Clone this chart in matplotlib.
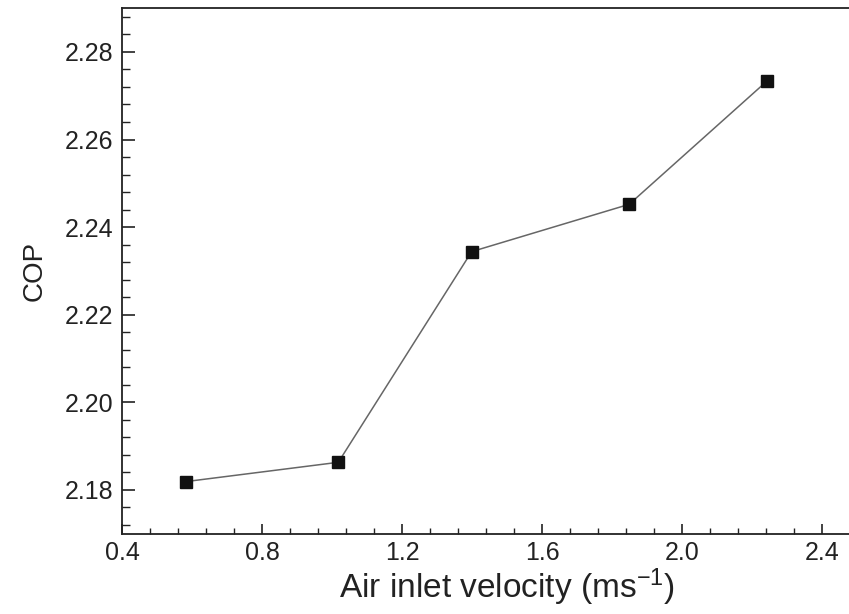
import matplotlib
matplotlib.use("Agg")
import matplotlib.pyplot as plt
from matplotlib.ticker import MultipleLocator, FormatStrFormatter

# data
velocity = [0.583, 1.018, 1.399, 1.849, 2.242]
cop = [2.1819, 2.1863, 2.2344, 2.2452, 2.2733]

plt.rcParams['font.family'] = ['Liberation Sans', 'DejaVu Sans']
plt.rcParams['mathtext.default'] = 'regular'

fig = plt.figure(figsize=(8.49, 6.14), dpi=100)
# axes run past the right edge of the picture (cropped like the original)
ax = fig.add_axes([0.1437, 0.1308, 0.907, 0.856])

ax.plot(velocity, cop, color='#666666', lw=1.1, marker='s', markersize=8,
        markerfacecolor='#111111', markeredgecolor='#111111')

ax.set_xlim(0.4, 2.6)
ax.set_ylim(2.17, 2.29)
ax.xaxis.set_major_locator(MultipleLocator(0.4))
ax.xaxis.set_minor_locator(MultipleLocator(0.08))
ax.yaxis.set_major_locator(MultipleLocator(0.02))
ax.yaxis.set_minor_locator(MultipleLocator(0.004))
ax.xaxis.set_major_formatter(FormatStrFormatter('%.1f'))
ax.yaxis.set_major_formatter(FormatStrFormatter('%.2f'))

ax.tick_params(which='both', direction='in', top=False, right=False, colors='#222222')
ax.tick_params(axis='x', which='major', length=7, width=1.2, labelsize=18, pad=5)
ax.tick_params(axis='x', which='minor', length=4.5, width=1.0)
ax.tick_params(axis='y', which='major', length=9, width=1.2, labelsize=18, pad=6.5)
ax.tick_params(axis='y', which='minor', length=5.5, width=1.0)
for s in ax.spines.values():
    s.set_linewidth(1.3)
    s.set_color('#222222')
ax.spines['right'].set_visible(False)

ax.set_xlabel('Air inlet velocity (ms$^{-1}$)', fontsize=24, color='#222222', labelpad=1)
ax.set_ylabel('COP', fontsize=20, color='#222222', labelpad=12)

plt.savefig('out.png', dpi=100)
